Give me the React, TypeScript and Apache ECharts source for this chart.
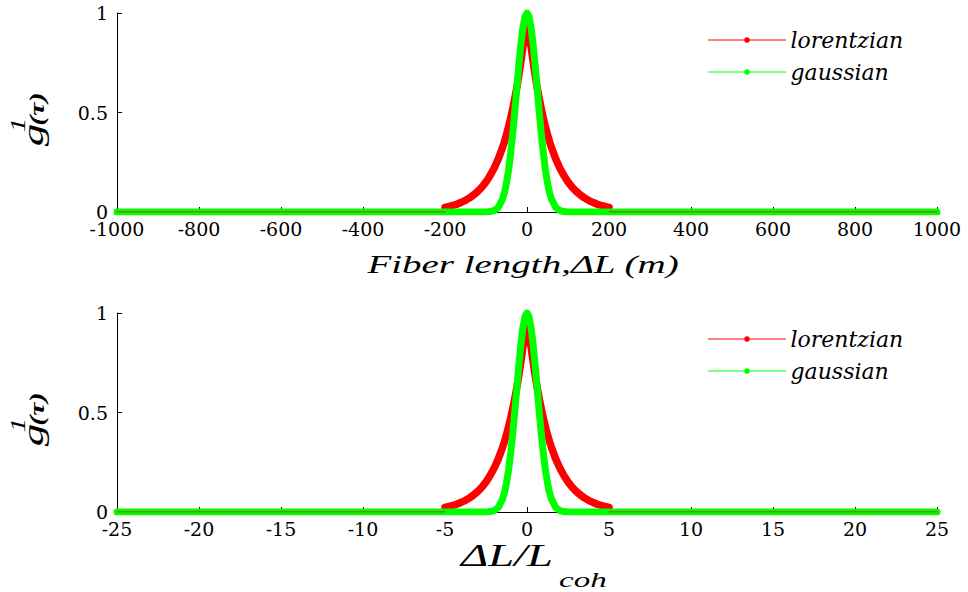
import React, { useEffect, useRef } from "react";
import * as echarts from "echarts";

// ---- data ----
const xMeters = [
  -1000, -200, -200, -190, -180, -170, -160, -150, -140, -130, -120, -110, -100, -90, -80, -70, -60,
  -55, -50, -45, -40, -35, -30, -25, -20, -15, -10, -5, 0,
  5, 10, 15, 20, 25, 30, 35, 40, 45, 50, 55,
  60, 70, 80, 90, 100, 110, 120, 130, 140, 150, 160, 170, 180, 190, 200, 200, 1000,
];
const xCoh = [
  -25, -5, -5, -4.75, -4.5, -4.25, -4, -3.75, -3.5, -3.25, -3, -2.75, -2.5, -2.25, -2, -1.75, -1.5,
  -1.375, -1.25, -1.125, -1, -0.875, -0.75, -0.625, -0.5, -0.375, -0.25, -0.125, 0,
  0.125, 0.25, 0.375, 0.5, 0.625, 0.75, 0.875, 1, 1.125, 1.25, 1.375,
  1.5, 1.75, 2, 2.25, 2.5, 2.75, 3, 3.25, 3.5, 3.75, 4, 4.25, 4.5, 4.75, 5, 5, 25,
];
const lorentzian = [
  0, 0, 0.023, 0.028, 0.034, 0.04, 0.049, 0.059, 0.071, 0.086, 0.104, 0.125, 0.151, 0.183, 0.221, 0.267, 0.322,
  0.354, 0.389, 0.428, 0.47, 0.517, 0.568, 0.624, 0.686, 0.754, 0.828, 0.89, 0.93,
  0.89, 0.828, 0.754, 0.686, 0.624, 0.568, 0.517, 0.47, 0.428, 0.389, 0.354,
  0.322, 0.267, 0.221, 0.183, 0.151, 0.125, 0.104, 0.086, 0.071, 0.059, 0.049, 0.04, 0.034, 0.028, 0.023, 0, 0,
];
const gaussian = [
  0, 0, 0, 0, 0, 0, 0, 0, 0, 0, 0, 0, 0, 0.002, 0.007, 0.023, 0.063,
  0.097, 0.146, 0.21, 0.293, 0.39, 0.5, 0.618, 0.735, 0.84, 0.926, 0.981, 1,
  0.981, 0.926, 0.84, 0.735, 0.618, 0.5, 0.39, 0.293, 0.21, 0.146, 0.097,
  0.063, 0.023, 0.007, 0.002, 0, 0, 0, 0, 0, 0, 0, 0, 0, 0, 0, 0, 0,
];
const yTicks = [0, 0.5, 1];
const seriesNames = ["lorentzian", "gaussian"];

const RED = "#ff0000";
const GREEN = "#00ff00";
const SERIF = "Liberation Serif, Times New Roman, serif";
const WIDE_SERIF = "DejaVu Serif, serif";
const STRETCH = 1.5;

function txt(text: string, x: number, y: number, size: number, extra: any = {}) {
  return {
    type: "text",
    x,
    y,
    rotation: extra.rotation || 0,
    scaleX: STRETCH,
    silent: true,
    style: {
      text,
      fontFamily: SERIF,
      fontStyle: "italic",
      fontWeight: extra.bold ? "bold" : "normal",
      fontSize: size,
      fill: "#000",
      align: extra.align || "center",
      verticalAlign: "middle",
    },
  };
}

function yLabel(dy: number) {
  const r = Math.PI / 2;
  return [
    txt("g", 33, 135 + dy, 30, { rotation: r }),
    txt("1", 18.5, 125 + dy, 20, { rotation: r }),
    txt("(τ)", 37, 109 + dy, 20, { rotation: r, bold: true }),
  ];
}

export default function App() {
  const ref = useRef<HTMLDivElement>(null);
  useEffect(() => {
    if (!ref.current) return;
    const chart = echarts.init(ref.current, null, { renderer: "svg" });
    const pairs = (xs: number[], ys: number[]) => xs.map((x, i) => [x, ys[i]]);
    const topL = pairs(xMeters, lorentzian);
    const topG = pairs(xMeters, gaussian);
    const botL = pairs(xCoh, lorentzian);
    const botG = pairs(xCoh, gaussian);

    const xAxisBase = (gridIndex: number, min: number, max: number, interval: number) => ({
      type: "value",
      gridIndex,
      min,
      max,
      interval,
      axisLine: { onZero: false, lineStyle: { color: "#000", width: 1 } },
      axisTick: { inside: true, length: 5, lineStyle: { color: "#000" } },
      axisLabel: {
        color: "#000",
        fontFamily: WIDE_SERIF,
        fontSize: 19,
        lineHeight: 16,
        margin: 9,
        formatter: (v: number) => String(v),
      },
      splitLine: { show: false },
    });
    const yAxisBase = (gridIndex: number) => ({
      type: "value",
      gridIndex,
      min: yTicks[0],
      max: yTicks[yTicks.length - 1],
      interval: yTicks[1] - yTicks[0],
      axisLine: { show: true, onZero: false, lineStyle: { color: "#000", width: 1 } },
      axisTick: { show: true, inside: true, length: 5, lineStyle: { color: "#000" } },
      axisLabel: {
        color: "#000",
        fontFamily: WIDE_SERIF,
        fontSize: 19,
        lineHeight: 14,
        margin: 9,
        formatter: (v: number) => String(v),
      },
      splitLine: { show: false },
    });
    const line = (name: string, data: any[], color: string, xi: number, z: number, width: number) => ({
      type: "line",
      name,
      xAxisIndex: xi,
      yAxisIndex: xi,
      data,
      symbol: "circle",
      symbolSize: 6,
      showSymbol: false,
      z,
      itemStyle: { color },
      lineStyle: { color, width, cap: "round", join: "round" },
    });
    const legendBase = (top: number) => ({
      data: seriesNames,
      orient: "vertical",
      left: 703,
      top,
      itemWidth: 77,
      itemHeight: 7,
      itemGap: 10,
      selectedMode: false,
      lineStyle: { width: 1 },
      textStyle: {
        fontFamily: WIDE_SERIF,
        fontStyle: "italic",
        fontSize: 22,
        lineHeight: 22,
        color: "#000",
      },
    });

    chart.setOption({
      animation: false,
      backgroundColor: "#fff",
      grid: [
        { left: 117, width: 820, top: 13, height: 199 },
        { left: 117, width: 820, top: 313, height: 199 },
      ],
      xAxis: [xAxisBase(0, -1000, 1000, 200), xAxisBase(1, -25, 25, 5)],
      yAxis: [yAxisBase(0), yAxisBase(1)],
      legend: [legendBase(24), legendBase(323)],
      series: [
        line("lorentzian", topL.slice(2, -2), RED, 0, 2, 7.5),
        line("gaussian", topG, GREEN, 0, 3, 7),
        line("lorentzian", topL.slice(0, 2), RED, 0, 4, 1.2),
        line("lorentzian", topL.slice(-2), RED, 0, 4, 1.2),
        line("lorentzian", botL.slice(2, -2), RED, 1, 2, 7.5),
        line("gaussian", botG, GREEN, 1, 3, 7),
        line("lorentzian", botL.slice(0, 2), RED, 1, 4, 1.2),
        line("lorentzian", botL.slice(-2), RED, 1, 4, 1.2),
      ],
      graphic: [
        ...yLabel(0),
        ...yLabel(300),
        txt("Fiber length,ΔL (m)", 523, 264, 26),
        txt("ΔL/L", 461, 556, 31, { align: "left" }),
        txt("coh", 559, 580, 22, { align: "left" }),
      ],
    });
    return () => chart.dispose();
  }, []);
  return (
    <div
      ref={ref}
      style={{ position: "absolute", left: 0, top: 0, width: 968, height: 592, background: "#fff" }}
    />
  );
}
